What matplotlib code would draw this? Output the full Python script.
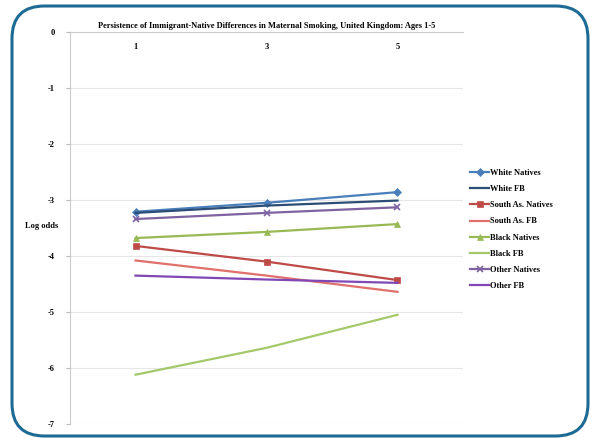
import matplotlib
matplotlib.use("Agg")
import matplotlib.pyplot as plt
from matplotlib.patches import FancyBboxPatch

ages = ["1", "3", "5"]
white_natives = [-3.21, -3.05, -2.86]
white_fb = [-3.23, -3.10, -3.01]
south_as_natives = [-3.82, -4.10, -4.43]
south_as_fb = [-4.08, -4.35, -4.64]
black_natives = [-3.68, -3.57, -3.43]
black_fb = [-6.12, -5.64, -5.05]
other_natives = [-3.34, -3.23, -3.13]
other_fb = [-4.35, -4.42, -4.48]

series = [
    ("White Natives", white_natives, "#4a7ebb", "D", 4),
    ("White FB", white_fb, "#2c4d75", None, 0),
    ("South As. Natives", south_as_natives, "#be4b48", "s", 5),
    ("South As. FB", south_as_fb, "#e0706c", None, 0),
    ("Black Natives", black_natives, "#98b954", "^", 5),
    ("Black FB", black_fb, "#a5c86a", None, 0),
    ("Other Natives", other_natives, "#7e62a1", "x", 5),
    ("Other FB", other_fb, "#8047b5", None, 0),
]

plt.rcParams['font.family'] = ['Liberation Serif', 'DejaVu Serif']
fig = plt.figure(figsize=(5.92, 4.42), dpi=100)
fig.patch.set_facecolor("white")

frame = FancyBboxPatch((12/592, 6/442), 576/592, 430/442,
                       boxstyle="round,pad=0,rounding_size=0.055",
                       transform=fig.transFigure, facecolor="none",
                       edgecolor="#1d6a94", linewidth=2.2, mutation_aspect=592/442)
fig.patches.append(frame)

ax = fig.add_axes([70/592, 1-424/442, 393/592, 392/442])
x = list(range(len(ages)))
for name, vals, col, mk, ms in series:
    ax.plot(x, vals, color=col, lw=1.6, marker=mk, markersize=ms,
            markeredgewidth=1.2 if mk == "x" else 0.5, label=name)

ax.set_xlim(-0.5, 2.5)
ax.set_ylim(-7, 0)
ax.set_yticks(range(-7, 1))
ax.set_yticklabels([str(v) for v in range(-7, 1)], fontsize=6, fontweight="bold")
ax.xaxis.tick_top()
ax.set_xticks(x)
ax.set_xticklabels(ages, fontsize=6, fontweight="bold")
ax.tick_params(axis="x", length=0, pad=-14, labeltop=True, labelbottom=False)
ax.tick_params(axis="y", length=3, color="#bbbbbb", pad=8)
ax.grid(axis="y", color="#e6e6e6", lw=0.8)
ax.set_axisbelow(True)
for s in ["right", "bottom"]:
    ax.spines[s].set_visible(False)
ax.spines["left"].set_color("#cccccc")
ax.spines["top"].set_color("#cccccc")

ax.set_title("Persistence of Immigrant-Native Differences in Maternal Smoking, United Kingdom: Ages 1-5",
             fontsize=6, fontweight="bold", pad=3)
fig.text(25/592, 1-226/442, "Log odds", fontsize=6, fontweight="bold", va="center", ha="left")

leg = ax.legend(loc="center left", bbox_to_anchor=(1.0, 0.496), frameon=False,
                handlelength=2.2, handletextpad=0.1,
                labelspacing=0.98, prop={"weight": "bold", "size": 6})

fig.savefig("out.png", dpi=100, facecolor="white")
